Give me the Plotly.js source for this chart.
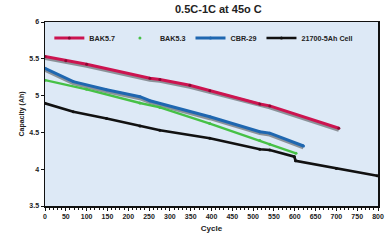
<!DOCTYPE html>
<html><head><meta charset="utf-8">
<script src="https://cdn.plot.ly/plotly-3.0.1.min.js"></script>
<style>html,body{margin:0;padding:0;background:#fff}#c{width:390px;height:240px}</style>
</head><body><div id="c"></div>
<script>
const bak57Cycles = [0, 50, 100, 252, 276, 348, 396, 516, 540, 706];
const bak57Cap    = [5.53, 5.475, 5.425, 5.235, 5.22, 5.14, 5.067, 4.886, 4.86, 4.556];
const bak53Cycles = [0, 100, 228, 276, 396, 516, 540, 603];
const bak53Cap    = [5.21, 5.085, 4.90, 4.84, 4.62, 4.39, 4.34, 4.216];
const cbrCycles   = [0, 68, 148, 228, 252, 396, 516, 540, 621];
const cbrCap      = [5.37, 5.19, 5.08, 4.985, 4.93, 4.713, 4.51, 4.49, 4.315];
const cellCycles  = [0, 68, 148, 228, 276, 396, 516, 540, 599, 602, 700, 798];
const cellCap     = [4.895, 4.78, 4.69, 4.587, 4.53, 4.42, 4.27, 4.26, 4.17, 4.115, 4.01, 3.91];
const xTicks = [0,50,100,150,200,250,300,350,400,450,500,550,600,650,700,750,800];
const yTicks = [3.5,4,4.5,5,5.5,6];

const shadow = (x, y) => ({x: x, y: y.map(v => v - 0.02), mode: 'lines', showlegend: false, hoverinfo: 'skip',
  line: {color: 'rgba(40,40,40,0.45)', width: 4}});

const traces = [
  shadow(bak57Cycles, bak57Cap),
  shadow(cbrCycles, cbrCap),
  {x: cellCycles, y: cellCap, name: '21700-5Ah Cell', mode: 'lines+markers', legendrank: 4,
   line: {color: '#111111', width: 2.6}, marker: {color: '#111111', size: 3}},
  {x: bak53Cycles, y: bak53Cap, mode: 'lines', showlegend: false, legendgroup: 'g',
   line: {color: '#46c146', width: 2.4}},
  {x: bak53Cycles, y: bak53Cap, name: 'BAK5.3', mode: 'markers', legendgroup: 'g', legendrank: 2,
   marker: {color: '#46c146', size: 3}},
  {x: cbrCycles, y: cbrCap, name: 'CBR-29', mode: 'lines+markers', legendrank: 3,
   line: {color: '#1f67b0', width: 3}, marker: {color: '#1f67b0', size: 3}},
  {x: bak57Cycles, y: bak57Cap, name: 'BAK5.7', mode: 'lines+markers', legendrank: 1,
   line: {color: '#cc1450', width: 3}, marker: {color: '#8a0a33', size: 3}}
];

const layout = {
  width: 390, height: 240,
  margin: {l: 45, r: 12, t: 22, b: 34},
  paper_bgcolor: '#ffffff', plot_bgcolor: '#dde9f6',
  font: {family: 'Liberation Sans, Arial, sans-serif', color: '#222', size: 7},
  title: {text: '<b>0.5C-1C at 45o C</b>', x: 0.56, xanchor: 'center', y: 0.96, yanchor: 'middle',
          font: {size: 11, color: '#222'}},
  showlegend: true,
  legend: {orientation: 'h', x: 0.477, xanchor: 'center', y: 0.913, yanchor: 'middle',
           bgcolor: 'rgba(0,0,0,0)', font: {size: 7.2, color: '#222', weight: 'bold'},
           traceorder: 'normal', tracegroupgap: 0},
  xaxis: {range: [0, 800], tickvals: xTicks, ticktext: xTicks.map(String), showgrid: false, zeroline: false,
          showline: true, linecolor: '#111', linewidth: 1.5, mirror: true,
          ticks: 'outside', ticklen: 3, tickcolor: '#111',
          minor: {dtick: 10, ticks: 'outside', ticklen: 2, tickcolor: '#111'},
          tickfont: {size: 7, weight: 'bold'},
          title: {text: '<b>Cycle</b>', font: {size: 8}, standoff: 6}},
  yaxis: {range: [3.5, 6], tickvals: yTicks, ticktext: yTicks.map(String), showgrid: false, zeroline: false,
          showline: true, linecolor: '#111', linewidth: 1.5, mirror: true,
          ticks: 'outside', ticklen: 3, tickcolor: '#111',
          tickfont: {size: 7, weight: 'bold'},
          title: {text: '<b>Capacity (Ah)</b>', font: {size: 7}, standoff: 4}}
};

Plotly.newPlot('c', traces, layout, {displayModeBar: false, staticPlot: true});
</script>
</body></html>
